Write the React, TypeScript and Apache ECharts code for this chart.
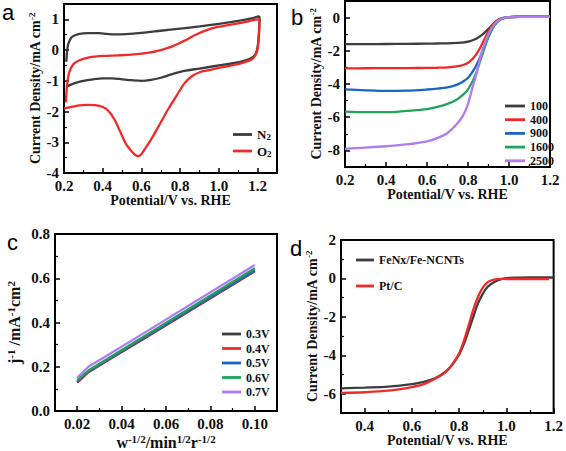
import React, { useEffect, useRef } from "react";
import * as echarts from "echarts";

// ---------- Panel a: CV in N2 / O2 ----------
const aN2X = [0.212, 0.215, 0.22, 0.23, 0.24, 0.26, 0.28, 0.32, 0.38, 0.42, 0.46, 0.52, 0.6, 0.7, 0.8, 0.9, 1.0, 1.1, 1.18, 1.205,
  1.21, 1.207, 1.2, 1.19, 1.17, 1.13, 1.08, 1.0, 0.9, 0.82, 0.75, 0.7, 0.65, 0.6, 0.55, 0.5, 0.45, 0.4, 0.35, 0.3, 0.26, 0.23, 0.21];
const aN2Y = [-0.38, -0.1, 0.15, 0.32, 0.42, 0.49, 0.53, 0.55, 0.55, 0.53, 0.51, 0.52, 0.56, 0.63, 0.7, 0.77, 0.85, 0.95, 1.05, 1.1,
  1.05, 0.6, 0.1, -0.12, -0.25, -0.35, -0.42, -0.5, -0.6, -0.68, -0.8, -0.9, -0.97, -1.0, -0.98, -0.95, -0.92, -0.92, -0.95, -1.0, -1.07, -1.14, -1.2];
const aO2X = [0.21, 0.215, 0.222, 0.235, 0.25, 0.28, 0.33, 0.4, 0.48, 0.56, 0.64, 0.7, 0.76, 0.82, 0.88, 0.94, 1.0, 1.07, 1.14, 1.2,
  1.21, 1.207, 1.2, 1.19, 1.17, 1.13, 1.08, 1.0, 0.95, 0.9, 0.86, 0.82, 0.78, 0.74, 0.7, 0.66, 0.62, 0.6, 0.585, 0.57, 0.55, 0.52, 0.49, 0.46, 0.43, 0.4, 0.36, 0.32, 0.28, 0.24, 0.2];
const aO2Y = [-1.7, -1.2, -0.85, -0.6, -0.45, -0.33, -0.24, -0.19, -0.17, -0.14, -0.08, 0.0, 0.12, 0.3, 0.5, 0.66, 0.76, 0.84, 0.92, 1.0,
  1.0, 0.5, 0.05, -0.15, -0.3, -0.4, -0.48, -0.58, -0.65, -0.72, -0.85, -1.1, -1.5, -1.9, -2.35, -2.8, -3.2, -3.38, -3.45, -3.42, -3.3, -3.05, -2.65, -2.25, -1.98, -1.85, -1.79, -1.78, -1.8, -1.85, -1.9];

// ---------- Panel b: LSV at rotation rates ----------
const bX = [0.2, 0.3, 0.4, 0.5, 0.6, 0.65, 0.7, 0.75, 0.78, 0.8, 0.82, 0.84, 0.86, 0.88, 0.9, 0.92, 0.94, 0.96, 0.98, 1.0, 1.05, 1.1, 1.2];
const b100 = [-1.6, -1.6, -1.59, -1.58, -1.57, -1.56, -1.55, -1.52, -1.49, -1.45, -1.38, -1.28, -1.12, -0.92, -0.68, -0.42, -0.2, -0.06, 0.0, 0.03, 0.05, 0.05, 0.05];
const b400 = [-3.06, -3.05, -3.04, -3.04, -3.03, -3.02, -3.0, -2.93, -2.84, -2.72, -2.52, -2.22, -1.8, -1.3, -0.85, -0.48, -0.22, -0.07, 0.0, 0.03, 0.05, 0.05, 0.05];
const b900 = [-4.32, -4.38, -4.42, -4.4, -4.33, -4.28, -4.2, -4.02, -3.82, -3.62, -3.3, -2.88, -2.35, -1.75, -1.15, -0.65, -0.3, -0.1, -0.01, 0.03, 0.05, 0.05, 0.05];
const b1600 = [-5.66, -5.7, -5.7, -5.62, -5.52, -5.38, -5.2, -4.9, -4.6, -4.32, -3.9, -3.35, -2.6, -1.85, -1.15, -0.62, -0.3, -0.1, -0.01, 0.03, 0.05, 0.05, 0.05];
const b2500 = [-7.9, -7.83, -7.75, -7.64, -7.45, -7.26, -6.95, -6.35, -5.8, -5.2, -4.3, -3.45, -2.4, -1.6, -1.0, -0.55, -0.25, -0.08, 0.0, 0.03, 0.05, 0.05, 0.05];
const bNames = ["100", "400", "900", "1600", "2500"];

// ---------- Panel c: K-L plots ----------
const cX = [0.02, 0.025, 0.0333, 0.05, 0.1];
const c03 = [0.128, 0.175, 0.226, 0.327, 0.632];
const c04 = [0.13, 0.177, 0.228, 0.33, 0.634];
const c05 = [0.133, 0.18, 0.23, 0.332, 0.636];
const c06 = [0.14, 0.183, 0.234, 0.337, 0.645];
const c07 = [0.15, 0.2, 0.25, 0.352, 0.66];
const cNames = ["0.3V", "0.4V", "0.5V", "0.6V", "0.7V"];

// ---------- Panel d: comparison ----------
const dFeX = [0.3, 0.4, 0.5, 0.6, 0.65, 0.7, 0.74, 0.77, 0.8, 0.82, 0.84, 0.86, 0.88, 0.9, 0.92, 0.94, 0.96, 0.98, 1.0, 1.05, 1.1, 1.18, 1.2];
const dFeY = [-5.72, -5.68, -5.63, -5.5, -5.38, -5.18, -4.88, -4.5, -3.95, -3.42, -2.72, -2.0, -1.3, -0.8, -0.45, -0.25, -0.12, -0.04, 0.02, 0.04, 0.05, 0.05, 0.05];
const dPtX = [0.3, 0.4, 0.5, 0.6, 0.65, 0.7, 0.74, 0.77, 0.8, 0.82, 0.84, 0.86, 0.88, 0.9, 0.92, 0.94, 0.96, 0.98, 1.0, 1.05, 1.1, 1.18];
const dPtY = [-5.96, -5.92, -5.84, -5.65, -5.5, -5.2, -4.9, -4.48, -3.9, -3.25, -2.45, -1.62, -0.95, -0.48, -0.2, -0.08, -0.03, -0.02, -0.03, -0.03, -0.03, -0.03];
const dNames = ["FeNx/Fe-NCNTs", "Pt/C"];

// ---------- Tick values ----------
const aXMajor = [0.2, 0.4, 0.6, 0.8, 1.0, 1.2];
const aXMinor = [0.3, 0.5, 0.7, 0.9, 1.1];
const aYMajor = [-4, -3, -2, -1, 0, 1];
const aYMinor = [-3.5, -2.5, -1.5, -0.5, 0.5];
const bXMajor = [0.2, 0.4, 0.6, 0.8, 1.0, 1.2];
const bXMinor = [0.3, 0.5, 0.7, 0.9, 1.1];
const bYMajor = [-8, -6, -4, -2, 0];
const bYMinor = [-9, -7, -5, -3, -1];
const cXMajor = [0.02, 0.04, 0.06, 0.08, 0.1];
const cXMinor = [0.03, 0.05, 0.07, 0.09];
const cYMajor = [0, 0.2, 0.4, 0.6, 0.8];
const cYMinor = [0.1, 0.3, 0.5, 0.7];
const dXMajor = [0.4, 0.6, 0.8, 1.0, 1.2];
const dXMinor = [0.5, 0.7, 0.9, 1.1];
const dYMajor = [-6, -4, -2, 0, 2];
const dYMinor = [-7, -5, -3, -1, 1];

const GRAY = "#3d3d3d";
const RED = "#f02a2a";
const BLUE = "#1a66c0";
const GREEN = "#22a35a";
const PURPLE = "#b07cf0";

const SERIF = "'Liberation Serif', 'Times New Roman', serif";
const SANS = "'Liberation Sans', Arial, sans-serif";

const pairs = (xs: number[], ys: number[]) => xs.map((x, i) => [x, ys[i]]);

const makeRich = (big: number, small: number) => ({
  t: { fontFamily: SERIF, fontWeight: "bold", fontSize: big, lineHeight: big + 2, color: "#111" },
  s: { fontFamily: SERIF, fontWeight: "bold", fontSize: small, lineHeight: small, verticalAlign: "top", color: "#111" },
});

function axisPair(
  dim: "x" | "y",
  grid: number,
  min: number,
  max: number,
  major: number[],
  minor: number[],
  fmt: (v: number) => string,
  name: string,
  nameGap: number,
  rich: any
) {
  const position = dim === "x" ? "bottom" : "left";
  const main: any = {
    type: "value",
    gridIndex: grid,
    min,
    max,
    position,
    offset: 0,
    axisLine: { show: true, onZero: false, lineStyle: { color: "#000", width: 2 } },
    axisTick: { show: true, inside: true, length: 5, customValues: major, lineStyle: { color: "#000", width: 1.5 } },
    axisLabel: {
      show: true,
      customValues: major,
      formatter: fmt,
      color: "#111",
      fontFamily: SERIF,
      fontWeight: "bold",
      fontSize: 15,
      margin: 5,
    },
    splitLine: { show: false },
    name,
    nameLocation: "middle",
    nameGap,
    nameTextStyle: { rich },
  };
  const sub: any = {
    type: "value",
    gridIndex: grid,
    min,
    max,
    position,
    offset: 0,
    axisLine: { show: false, onZero: false },
    axisTick: { show: true, inside: true, length: 3, customValues: minor, lineStyle: { color: "#000", width: 1.2 } },
    axisLabel: { show: false },
    splitLine: { show: false },
  };
  return [main, sub];
}

const f1 = (v: number) => v.toFixed(1);
const f2 = (v: number) => v.toFixed(2);
const f0 = (v: number) => String(Math.round(v));

const cdName = "{t|Current Density/mA cm}{s|-2}";
const potName = "{t|Potential/V vs. RHE}";

function lineSeries(name: string, grid: number, data: number[][], color: string, smooth: boolean | number = 0.3) {
  return {
    type: "line",
    name,
    xAxisIndex: grid * 2,
    yAxisIndex: grid * 2,
    data,
    showSymbol: false,
    symbol: "none",
    smooth,
    lineStyle: { color, width: 2.3 },
    itemStyle: { color, borderWidth: 0, borderColor: color },
  };
}

const legendText = (fontSize: number) => ({
  fontFamily: SERIF,
  fontWeight: "bold",
  fontSize,
  color: "#111",
  rich: {
    m: { fontFamily: SERIF, fontWeight: "bold", fontSize, lineHeight: fontSize + 1, color: "#111" },
    u: { fontFamily: SERIF, fontWeight: "bold", fontSize: fontSize - 4, lineHeight: fontSize - 4, verticalAlign: "bottom", color: "#111" },
  },
});

const legendBase = {
  orient: "vertical",
  icon: "rect",
  itemHeight: 2.8,
  itemStyle: { borderWidth: 0 },
  lineStyle: { width: 0 },
  selectedMode: false,
};

export default function App() {
  const ref = useRef<HTMLDivElement>(null);

  useEffect(() => {
    if (!ref.current) return;
    const chart = echarts.init(ref.current, undefined, { renderer: "svg" });

    const r14 = makeRich(14, 9);
    const r16 = makeRich(16, 11);
    const [axA, axAm] = axisPair("x", 0, 0.2, 1.3, aXMajor, aXMinor, f1, potName, 18, r14);
    const [ayA, ayAm] = axisPair("y", 0, -4, 1.5, aYMajor, aYMinor, f0, cdName, 19, r14);
    const [axB, axBm] = axisPair("x", 1, 0.2, 1.2, bXMajor, bXMinor, f1, potName, 18, r14);
    const [ayB, ayBm] = axisPair("y", 1, -9, 1, bYMajor, bYMinor, f0, cdName, 15, r14);
    const [axC, axCm] = axisPair("x", 2, 0.01, 0.11, cXMajor, cXMinor, f2, "{t|w}{s|-1/2}{t|/min}{s|1/2}{t|r}{s|-1/2}", 22, r16);
    const [ayC, ayCm] = axisPair("y", 2, 0, 0.8, cYMajor, cYMinor, f1, "{t|j}{s|-1}{t| /mA}{s|-1}{t|cm}{s|2}", 32, r16);
    const [axD, axDm] = axisPair("x", 3, 0.3, 1.2, dXMajor, dXMinor, f1, potName, 19, r14);
    const [ayD, ayDm] = axisPair("y", 3, -7, 2, dYMajor, dYMinor, f0, cdName, 18, r14);

    const gridBase = { show: true, borderColor: "#000", borderWidth: 2, backgroundColor: "transparent", containLabel: false };

    const option: any = {
      animation: false,
      backgroundColor: "#fff",
      grid: [
        { ...gridBase, left: 64, top: 4, width: 213, height: 169 },
        { ...gridBase, left: 345, top: 1, width: 205, height: 166 },
        { ...gridBase, left: 55, top: 234, width: 222, height: 179 },
        { ...gridBase, left: 341, top: 240, width: 215, height: 173 },
      ],
      xAxis: [axA, axAm, axB, axBm, axC, axCm, axD, axDm],
      yAxis: [ayA, ayAm, ayB, ayBm, ayC, ayCm, ayD, ayDm],
      legend: [
        {
          ...legendBase, left: 228, top: 123, itemWidth: 19, itemGap: 3,
          data: ["N2", "O2"], textStyle: legendText(13),
          formatter: (n: string) => `{m|${n.charAt(0)}}{u|${n.slice(1)}}`,
        },
        {
          ...legendBase, left: 500, top: 95, itemWidth: 20, itemGap: 1.7,
          data: bNames, textStyle: legendText(12), formatter: (n: string) => `{m|${n}}`,
        },
        {
          ...legendBase, left: 217, top: 323, itemWidth: 19, itemGap: 2.5,
          data: cNames, textStyle: legendText(12), formatter: (n: string) => `{m|${n}}`,
        },
        {
          ...legendBase, left: 351, top: 249, itemWidth: 18, itemGap: 14,
          data: dNames, textStyle: legendText(12), formatter: (n: string) => `{m|${n}}`,
        },
      ],
      series: [
        lineSeries("N2", 0, pairs(aN2X, aN2Y), GRAY),
        lineSeries("O2", 0, pairs(aO2X, aO2Y), RED),
        lineSeries(bNames[0], 1, pairs(bX, b100), GRAY),
        lineSeries(bNames[1], 1, pairs(bX, b400), RED),
        lineSeries(bNames[2], 1, pairs(bX, b900), BLUE),
        lineSeries(bNames[3], 1, pairs(bX, b1600), GREEN),
        lineSeries(bNames[4], 1, pairs(bX, b2500), PURPLE),
        lineSeries(cNames[0], 2, pairs(cX, c03), GRAY, false),
        lineSeries(cNames[1], 2, pairs(cX, c04), RED, false),
        lineSeries(cNames[2], 2, pairs(cX, c05), BLUE, false),
        lineSeries(cNames[3], 2, pairs(cX, c06), GREEN, false),
        lineSeries(cNames[4], 2, pairs(cX, c07), PURPLE, false),
        lineSeries(dNames[0], 3, pairs(dFeX, dFeY), GRAY),
        lineSeries(dNames[1], 3, pairs(dPtX, dPtY), RED),
      ],
      graphic: [
        { type: "text", x: 2, y: 12, style: { text: "a", font: `22px ${SANS}`, fill: "#000", textAlign: "left", textVerticalAlign: "middle" } },
        { type: "text", x: 291, y: 17, style: { text: "b", font: `22px ${SANS}`, fill: "#000", textAlign: "left", textVerticalAlign: "middle" } },
        { type: "text", x: 7, y: 242, style: { text: "c", font: `22px ${SANS}`, fill: "#000", textAlign: "left", textVerticalAlign: "middle" } },
        { type: "text", x: 290, y: 248, style: { text: "d", font: `22px ${SANS}`, fill: "#000", textAlign: "left", textVerticalAlign: "middle" } },
      ],
    };

    chart.setOption(option);
    return () => chart.dispose();
  }, []);

  return (
    <div
      ref={ref}
      style={{ position: "fixed", left: 0, top: 0, width: 566, height: 451, background: "#fff" }}
    />
  );
}
